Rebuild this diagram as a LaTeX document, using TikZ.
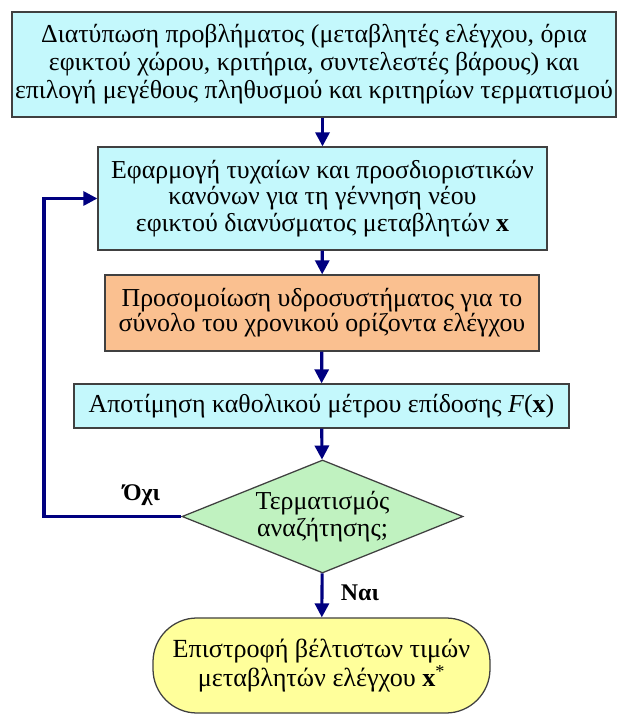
\documentclass[tikz,border=0pt]{standalone}
\usepackage{fontspec}
\setmainfont{Liberation Serif}
\usepackage{xcolor}
\usepackage{tikz}
\usetikzlibrary{arrows.meta,shapes.geometric,positioning}

\definecolor{boxcyan}{RGB}{196,248,252}
\definecolor{boxorange}{RGB}{250,192,144}
\definecolor{boxgreen}{RGB}{192,242,192}
\definecolor{boxyellow}{RGB}{255,255,155}
\definecolor{arrnavy}{RGB}{0,0,128}

\begin{document}
\begin{tikzpicture}[
  box/.style={draw=black!75, line width=0.9pt, align=center, inner sep=0pt, fill=boxcyan,
    font=\fontsize{18.4}{19}\selectfont},
  sim/.style={box, fill=boxorange, font=\fontsize{18.4}{16.5}\selectfont},
  dec/.style={box, diamond, aspect=2.5, fill=boxgreen},
  term/.style={box, rounded corners=1.1cm, fill=boxyellow, font=\fontsize{18.6}{21}\selectfont},
  lbl/.style={font=\fontsize{17}{20}\selectfont\bfseries, inner sep=1pt},
  flow/.style={draw=arrnavy, line width=2.2pt, -{Triangle[length=10pt,width=10pt]}}
]
\useasboundingbox (0,0) rectangle (15.5,17.875);
\node[box, font=\fontsize{18.4}{20}\selectfont, minimum width=15.1cm, minimum height=2.625cm] (setup) at (7.85,16.2625)
  {Διατύπωση προβλήματος (μεταβλητές ελέγχου, όρια\\εφικτού χώρου, κριτήρια, συντελεστές βάρους) και\\επιλογή μεγέθους πληθυσμού και κριτηρίων τερματισμού};
\node[box, minimum width=11.225cm, minimum height=2.575cm] (gen) at (8.0625,12.9125)
  {Εφαρμογή τυχαίων και προσδιοριστικών\\κανόνων για τη γέννηση νέου\\εφικτού διανύσματος μεταβλητών \textbf{x}};
\node[sim, minimum width=10.85cm, minimum height=1.9cm] (simul) at (8.05,10.05)
  {Προσομοίωση υδροσυστήματος για το\\σύνολο του χρονικού ορίζοντα ελέγχου};
\node[box, minimum width=12.375cm, minimum height=1.1cm] (eval) at (8.0375,7.725)
  {Αποτίμηση καθολικού μέτρου επίδοσης \textit{F}(\textbf{x})};
\node[dec, minimum width=7.025cm, minimum height=2.825cm] (stop) at (8.0625,4.9625)
  {Τερματισμός\\αναζήτησης;};
\node[term, minimum width=8.425cm, minimum height=2.375cm] (result) at (8.0375,1.2375)
  {Επιστροφή βέλτιστων τιμών\\μεταβλητών ελέγχου \textbf{x}\textsuperscript{*}};
\coordinate (back) at (1.1,4.9625);

\draw[flow] (setup.south -| gen.north) -- (gen.north);
\draw[flow] (gen) -- (simul);
\draw[flow] (simul) -- (eval);
\draw[flow] (eval) -- (stop);
\draw[flow] (stop) -- node[lbl, right=4mm, pos=0.44]{Ναι} (result);
\draw[flow] (stop.west) -- node[lbl, above=2mm, pos=0.29]{Όχι} (back) |- (gen.west);
\end{tikzpicture}
\end{document}
